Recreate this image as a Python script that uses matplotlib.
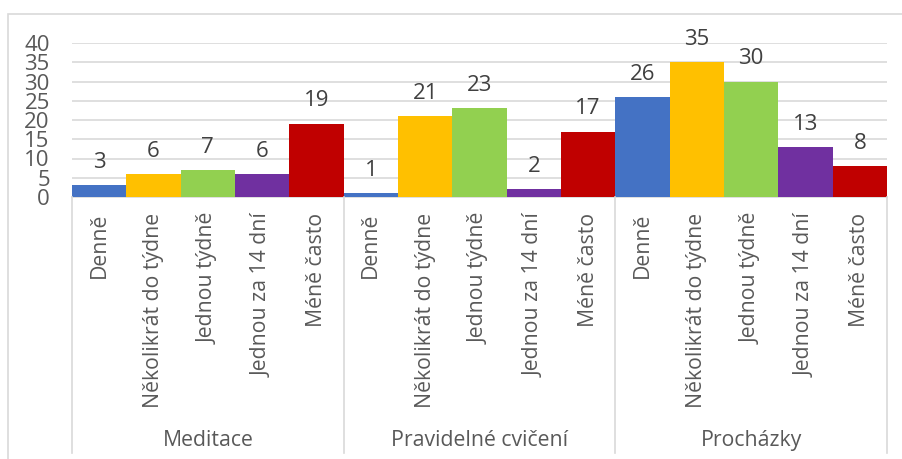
import matplotlib
matplotlib.use("Agg")
import matplotlib.pyplot as plt
from matplotlib.patches import Rectangle
from matplotlib.lines import Line2D

plt.rcParams['font.family'] = ['Open Sans', 'DejaVu Sans']

groups = ["Meditace", "Pravidelné cvičení", "Procházky"]
categories = ["Denně", "Několikrát do týdne", "Jednou týdně", "Jednou za 14 dní", "Méně často"]
colors = ["#4472C4", "#FFC000", "#92D050", "#7030A0", "#C00000"]
values = {
    "Meditace": [3, 6, 7, 6, 19],
    "Pravidelné cvičení": [1, 21, 23, 2, 17],
    "Procházky": [26, 35, 30, 13, 8],
}
yticks = [0, 5, 10, 15, 20, 25, 30, 35, 40]

W, H = 902, 459
fig = plt.figure(figsize=(W / 100, H / 100), dpi=100)
L, R, T, B = 72, 887, 43, 197
ax = fig.add_axes([L / W, 1 - B / H, (R - L) / W, (B - T) / H])

txt = "#595959"
grid = "#D9D9D9"
fs = 15.3
fsn = 16

n = len(categories)
xs, hs, cs = [], [], []
for gi, g in enumerate(groups):
    for ci in range(n):
        xs.append(gi * n + ci)
        hs.append(values[g][ci])
        cs.append(colors[ci])
ax.bar(xs, hs, width=1.0, color=cs, zorder=3)
for x, h in zip(xs, hs):
    ax.annotate(str(h), (x, h), xytext=(0, 12.5), textcoords="offset points",
                ha="center", va="baseline", fontsize=fsn, color="#404040",
                annotation_clip=False, zorder=4)

ax.set_xlim(-0.5, len(xs) - 0.5)
ax.set_ylim(0, 40)
ax.set_yticks(yticks)
ax.set_yticklabels([str(t) for t in yticks], fontsize=fsn, color=txt)
ax.tick_params(axis="y", length=0, pad=16)
ax.set_xticks([])
ax.yaxis.grid(True, color=grid, linewidth=1.2, zorder=0)
for s in ["top", "right", "left"]:
    ax.spines[s].set_visible(False)
ax.spines["bottom"].set_color(grid)
ax.spines["bottom"].set_linewidth(1.2)

# category labels (rotated)
for x, gi_ci in zip(xs, [(gi, ci) for gi in range(len(groups)) for ci in range(n)]):
    xf = (L + (x + 0.5) * (R - L) / len(xs)) / W
    fig.text(xf, 1 - 213 / H, categories[gi_ci[1]], rotation=90, ha="center", va="top",
             fontsize=fs, color=txt)

# group labels and separators
for gi, g in enumerate(groups):
    xc = (L + (gi + 0.5) * n * (R - L) / len(xs)) / W
    fig.text(xc, 1 - 446 / H, g, ha="center", va="baseline", fontsize=fs, color=txt)
for gi in range(len(groups) + 1):
    xp = (L + gi * n * (R - L) / len(xs)) / W
    fig.add_artist(Line2D([xp, xp], [1 - B / H, 1 - 453 / H], color=grid, linewidth=1.2,
                          transform=fig.transFigure))

# outer border
fig.add_artist(Rectangle((8 / W, -0.1), 1.2, 1 - 14 / H + 0.1, transform=fig.transFigure,
                         fill=False, edgecolor=grid, linewidth=1.2))

fig.savefig("out.png", dpi=100)
